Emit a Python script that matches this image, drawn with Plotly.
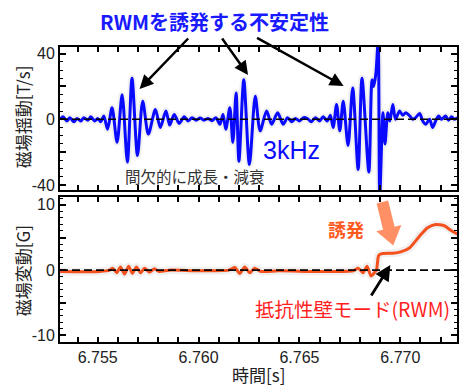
import plotly.graph_objects as go

# ---- data ----
t_top = [6.75313, 6.75328, 6.75347, 6.75362, 6.75382, 6.75397, 6.75416, 6.75431, 6.75451, 6.75466,
         6.75485, 6.75500, 6.75515, 6.75530, 6.75549, 6.75571, 6.75596, 6.75621, 6.75647, 6.75670,
         6.75697, 6.75723, 6.75751, 6.75786, 6.75810, 6.75838, 6.75857, 6.75879, 6.75904, 6.75929,
         6.75948, 6.75968, 6.75988, 6.76007, 6.76027, 6.76047, 6.76066, 6.76086, 6.76106, 6.76121,
         6.76135, 6.76155, 6.76170, 6.76186, 6.76200, 6.76224, 6.76252, 6.76281, 6.76305, 6.76337,
         6.76362, 6.76392, 6.76419, 6.76441, 6.76461, 6.76480, 6.76500, 6.76520, 6.76539, 6.76559,
         6.76579, 6.76599, 6.76618, 6.76638, 6.76653, 6.76667, 6.76684, 6.76700, 6.76717, 6.76741,
         6.76764, 6.76791, 6.76810, 6.76844, 6.76860, 6.76868, 6.76879, 6.76890, 6.76898, 6.76914,
         6.76924, 6.76938, 6.76948, 6.76963, 6.76976, 6.76996, 6.77012, 6.77027, 6.77047, 6.77062,
         6.77076, 6.77096, 6.77111, 6.77126, 6.77145, 6.77160, 6.77175, 6.77190, 6.77204, 6.77224,
         6.77239, 6.77254, 6.77268, 6.77283]
v_top = [0, 1.5, -1, 1, -1.5, 0.5, -1, 1, -0.5, 1.5,
         -1, 0.5, -1.5, 2, -6, 7, -14, 15, -26, 25,
         -22, 11, -9, 6, -5, 5, -3.5, 3, -2.5, 1.5,
         -1, 1, -0.5, 0.8, -0.5, 0.5, -0.8, 1, -3, 3,
         -6, 7, -14, 16, -25.5, 24, -27.5, 14, -7, 5,
         -3, 4, -3, 1, -1.5, 0.5, -1, 1, 0.5, -1.5,
         1, -1, 1.5, -1, 2.5, -5, 9, -7, 11, -16,
         19, -30.5, 25, -32, 24, 20, 28, 47, -47, 4,
         -15, 4, -1, 9, 0, 5, 2.5, 4, 2, 0,
         1, 3.5, -1, -3, 0, -5, -1, 2, 0, 2,
         -0.5, 1.5, 0, 1]

t_bot = [6.75313, 6.75510, 6.75559, 6.75574, 6.75594, 6.75613, 6.75633, 6.75653, 6.75672, 6.75692,
         6.75712, 6.75732, 6.75756, 6.75781, 6.75805, 6.75855, 6.76002, 6.76150, 6.76180, 6.76204,
         6.76229, 6.76254, 6.76278, 6.76308, 6.76397, 6.76594, 6.76766, 6.76791, 6.76815, 6.76835,
         6.76855, 6.76874, 6.76882, 6.76892, 6.76904, 6.76963, 6.77002, 6.77045, 6.77095, 6.77135,
         6.77175, 6.77218, 6.77250, 6.77283]
v_bot = [-0.2, -0.2, 0, 0.3, -0.4, 0.5, -0.6, 0.6, -0.5, 0.5,
         -0.4, 0.3, -0.3, 0.2, -0.2, 0, -0.1, 0, 0.4, -0.5,
         0.5, -0.4, 0.3, -0.2, -0.1, -0.2, -0.1, 0.3, -0.4, 0.6,
         -0.9, -0.3, 0, 2.2, 2.5, 2.6, 2.8, 3.4, 5.2, 6.5,
         7.0, 6.8, 6.1, 5.5]

x_tick_vals = [6.755, 6.760, 6.765, 6.770]
x_tick_text = ["6.755", "6.760", "6.765", "6.770"]
y1_tick_vals = [-40, -20, 0, 20, 40]
y1_tick_text = ["-40", "", "0", "", "40"]
y2_tick_vals = [-10, -5, 0, 5, 10]
y2_tick_text = ["-10", "", "0", "", "10"]

# ---- layout helpers (pixel -> paper) ----
W, H = 460, 388
ML, MR, MT, MB = 60, 1, 47, 46
PW, PH = W - ML - MR, H - MT - MB


def px(x):
    return (x - ML) / PW


def py(y):
    return (H - MB - y) / PH


BLUE = "#0a0aff"
ORANGE = "#f4511e"
FONT = "Liberation Sans, Arial, Noto Sans CJK JP"
CJK = "Noto Sans CJK JP, Liberation Sans"

fig = go.Figure()
# soft shadows
fig.add_trace(go.Scatter(x=t_top, y=v_top, mode="lines", xaxis="x", yaxis="y",
                         line=dict(color="rgba(0,0,0,0.06)", width=7, shape="spline", smoothing=0.8),
                         hoverinfo="skip", showlegend=False))
fig.add_trace(go.Scatter(x=t_top, y=v_top, mode="lines", xaxis="x", yaxis="y",
                         line=dict(color=BLUE, width=3, shape="spline", smoothing=0.8),
                         showlegend=False))
fig.add_trace(go.Scatter(x=t_bot, y=v_bot, mode="lines", xaxis="x2", yaxis="y2",
                         line=dict(color="rgba(0,0,0,0.06)", width=8, shape="spline", smoothing=0.6),
                         hoverinfo="skip", showlegend=False))
fig.add_trace(go.Scatter(x=t_bot, y=v_bot, mode="lines", xaxis="x2", yaxis="y2",
                         line=dict(color=ORANGE, width=3, shape="spline", smoothing=0.6),
                         showlegend=False))

xr = [6.75313, 6.77281]
axis_common = dict(showline=True, linewidth=2, linecolor="black", mirror="ticks",
                   ticks="inside", tickcolor="black", showgrid=False, zeroline=False,
                   tickfont=dict(family=FONT, size=16, color="#222"))

d_top = [py(190), 1]
d_bot = [0, py(197)]

fig.update_layout(
    width=W, height=H, margin=dict(l=ML, r=MR, t=MT, b=MB),
    plot_bgcolor="white", paper_bgcolor="white",
    xaxis=dict(range=xr, domain=[0, 1], anchor="y", tickvals=x_tick_vals, ticktext=[""] * 4,
               ticklen=5, tickwidth=1.5,
               minor=dict(ticks="inside", dtick=0.001, tick0=6.755, ticklen=5, tickwidth=1.5,
                          tickcolor="black", showgrid=False),
               **axis_common),
    yaxis=dict(range=[-43, 44], domain=d_top, anchor="x", tickvals=y1_tick_vals,
               ticktext=y1_tick_text, ticklen=6, tickwidth=1.5,
               minor=dict(ticks="inside", dtick=5, tick0=0, ticklen=3, tickwidth=1.2,
                          tickcolor="black", showgrid=False),
               **axis_common),
    xaxis2=dict(range=xr, domain=[0, 1], anchor="y2", tickvals=x_tick_vals, ticktext=x_tick_text,
                ticklen=5, tickwidth=1.5,
                minor=dict(ticks="inside", dtick=0.001, tick0=6.755, ticklen=5, tickwidth=1.5,
                           tickcolor="black", showgrid=False),
                **axis_common),
    yaxis2=dict(range=[-11, 11.2], domain=d_bot, anchor="x2", tickvals=y2_tick_vals,
                ticktext=y2_tick_text, ticklen=6, tickwidth=1.5,
                minor=dict(ticks="inside", dtick=1, tick0=0, ticklen=3, tickwidth=1.2,
                           tickcolor="black", showgrid=False),
                **axis_common),
)

# zero dashed lines
fig.add_shape(type="line", xref="x domain", yref="y", x0=0, x1=1, y0=0, y1=0,
              line=dict(color="black", width=1.6, dash="8px,4px"), layer="above")
fig.add_shape(type="line", xref="x2 domain", yref="y2", x0=0, x1=1, y0=0, y1=0,
              line=dict(color="black", width=1.6, dash="8px,4px"), layer="above")

# fat orange arrow (decoration)
pts = [(378.2, 203.5), (389.8, 200.5), (396.3, 226.7), (403.1, 225.1), (394.9, 245.6),
       (377.9, 231.3), (384.7, 229.7)]
path = "M " + " L ".join(f"{px(a):.4f},{py(b):.4f}" for a, b in pts) + " Z"
fig.add_shape(type="path", xref="paper", yref="paper", path=path,
              fillcolor="rgba(255,125,75,0.85)", line=dict(width=0), layer="above")

ann = []


def text(x, y, s, size, color, family=CJK, angle=0):
    ann.append(dict(x=px(x), y=py(y), xref="paper", yref="paper", text=s, showarrow=False,
                    font=dict(family=family, size=size, color=color), textangle=angle,
                    xanchor="center", yanchor="middle"))


def arrow(tail, tip, color="black", width=2.5):
    ann.append(dict(x=px(tip[0]), y=py(tip[1]), xref="paper", yref="paper", text="",
                    showarrow=True, ax=tail[0] - tip[0], ay=tail[1] - tip[1],
                    axref="pixel", ayref="pixel",
                    arrowhead=2, arrowsize=1.1, arrowwidth=width, arrowcolor=color))


text(215, 21, "<b>RWMを誘発する不安定性</b>", 20, "#1a1aff")
text(293, 150, "3kHz", 25, BLUE, family=FONT)
text(196, 176, "間欠的に成長・減衰", 15.5, "#333")
text(22, 117, "磁場揺動[T/s]", 17, "#222", angle=-90)
text(22, 271, "磁場変動[G]", 17, "#222", angle=-90)
text(260, 374, "時間[s]", 17, "#222")
text(347, 229, "<b>誘発</b>", 18, "#ff5a1e")
text(354, 308, "抵抗性壁モード(RWM)", 19.5, "#ff1f1f")

arrow((190, 37), (140, 89))
arrow((222, 37), (249, 75))
arrow((257, 37), (345, 86))
arrow((372, 297), (392, 265), width=2.8)

fig.update_layout(annotations=ann)
fig.write_html("out.html", config={"displayModeBar": False},
               post_script="document.body.style.margin='0';document.body.style.padding='0';")
